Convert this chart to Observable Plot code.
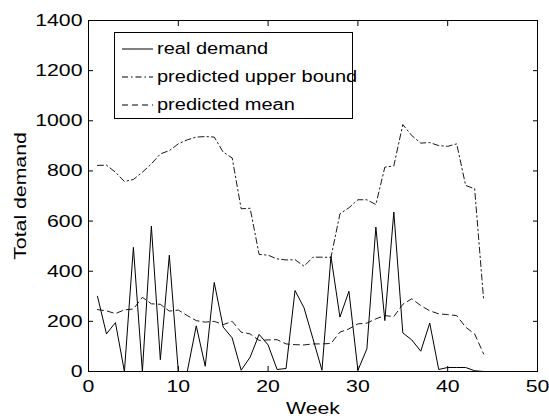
<!DOCTYPE html>
<html>
<head>
<meta charset="utf-8">
<script src="https://cdn.jsdelivr.net/npm/d3@7"></script>
<script src="https://cdn.jsdelivr.net/npm/@observablehq/plot@0.6"></script>
<style>
  html, body { margin: 0; padding: 0; background: #fff; }
  #wrap { position: relative; width: 549px; height: 418px; font-family: "Liberation Sans", Arial, sans-serif; }
  #legend { position: absolute; left: 114px; top: 32px; width: 239px; height: 87px; border: 1px solid #000; background: #fff; box-sizing: border-box; }
  .row { position: absolute; left: 0; height: 24px; display: flex; align-items: center; font-size: 16px; color: #000; white-space: nowrap; }
  .row svg { margin-left: 7px; margin-right: 4px; flex: none; }
  .row span { display: inline-block; transform: scaleX(1.25); transform-origin: left center; }
</style>
</head>
<body>
<div id="wrap">
  <div id="chart"></div>
  <div id="legend"></div>
</div>
<script>
const weeks = d3.range(1, 45);
const realDemand = [300, 150, 195, 0, 495, 0, 580, 47, 464, 0,
                    0, 182, 21, 355, 177, 134, 5, 57, 148, 106,
                    8, 12, 323, 254, 130, 5, 459, 217, 320, 5,
                    90, 576, 203, 636, 154, 126, 81, 193, 8, 16,
                    16, 16, 3, 0];
const upperBound = [822, 823, 795, 758, 766, 795, 828, 868, 881, 908,
                    924, 935, 937, 935, 875, 852, 649, 651, 467, 464,
                    449, 445, 446, 420, 456, 456, 455, 629, 653, 685,
                    685, 666, 815, 820, 985, 941, 911, 913, 901, 898,
                    908, 742, 729, 286];
const predictedMean = [247, 242, 231, 246, 249, 296, 270, 268, 241, 245,
                       223, 203, 197, 200, 187, 200, 157, 150, 124, 126,
                       127, 110, 107, 106, 110, 110, 112, 157, 170, 190,
                       193, 210, 223, 219, 268, 290, 263, 242, 230, 227,
                       223, 177, 150, 70];
const xTicks = [0, 10, 20, 30, 40, 50];
const yTicks = [0, 200, 400, 600, 800, 1000, 1200, 1400];
const seriesNames = ["real demand", "predicted upper bound", "predicted mean"];
const dashes = [null, "6,3,1.5,3", "6,4"];

const rows = (vals) => weeks.map((w, i) => ({week: w, value: vals[i]}));
const fmt = (d) => String(d);

const chart = Plot.plot({
  width: 549,
  height: 418,
  marginLeft: 88,
  marginRight: 12,
  marginTop: 20,
  marginBottom: 47,
  style: {fontFamily: "Liberation Sans, Arial, sans-serif", fontSize: "17px", color: "#000", background: "#fff"},
  x: {domain: [0, 50]},
  y: {domain: [0, 1400]},
  marks: [
    Plot.line(rows(upperBound), {x: "week", y: "value", stroke: "#000", strokeWidth: 0.9, strokeDasharray: dashes[1]}),
    Plot.line(rows(predictedMean), {x: "week", y: "value", stroke: "#000", strokeWidth: 0.9, strokeDasharray: dashes[2]}),
    Plot.line(rows(realDemand), {x: "week", y: "value", stroke: "#000", strokeWidth: 1}),
    Plot.axisX({anchor: "bottom", ticks: xTicks, tickSize: -5, tickPadding: 13, tickFormat: fmt, label: "Week", labelAnchor: "center", labelArrow: "none", labelOffset: 42, fontSize: 17}),
    Plot.axisX({anchor: "top", ticks: xTicks, tickSize: -5, tickFormat: () => "", label: null}),
    Plot.axisY({anchor: "left", ticks: yTicks, tickSize: -5, tickPadding: 11, tickFormat: fmt, label: "Total demand", labelAnchor: "center", labelArrow: "none", labelOffset: 75, fontSize: 17}),
    Plot.axisY({anchor: "right", ticks: yTicks, tickSize: -5, tickFormat: () => "", label: null}),
    Plot.frame({stroke: "#000", strokeWidth: 1})
  ]
});
// the reference typeface is horizontally wide: stretch each text about its anchor
d3.select(chart).selectAll("text").each(function () {
  const t = this.getAttribute("transform") || "";
  this.setAttribute("transform", (t + " scale(1.25,1)").trim());
});
document.getElementById("chart").appendChild(chart);

const legend = document.getElementById("legend");
seriesNames.forEach((name, i) => {
  const row = document.createElement("div");
  row.className = "row";
  row.style.top = (4 + i * 28) + "px";
  const dash = dashes[i] ? ` stroke-dasharray="${dashes[i]}"` : "";
  row.innerHTML = `<svg width="31" height="4"><line x1="0" y1="2" x2="31" y2="2" stroke="#000" stroke-width="1"${dash}/></svg><span>${name}</span>`;
  legend.appendChild(row);
});
</script>
</body>
</html>
